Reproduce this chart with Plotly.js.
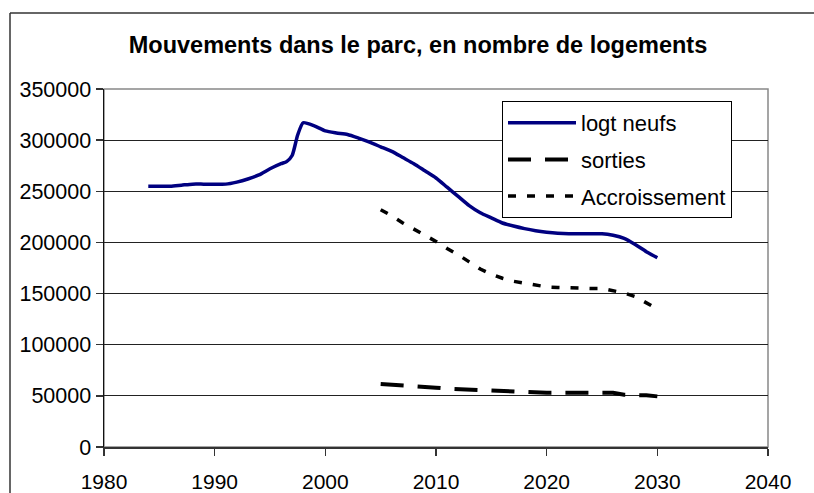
<!DOCTYPE html>
<html>
<head>
<meta charset="utf-8">
<script src="https://cdn.plot.ly/plotly-3.0.1.min.js"></script>
<style>html,body{margin:0;padding:0;background:#fff;overflow:hidden;}#chart{width:814px;height:493px;}</style>
</head>
<body>
<div id="chart"></div>
<script>
// Data
const yearsNeufs = [1984,1985,1986,1987,1988,1989,1990,1991,1992,1993,1994,1995,1996,1996.5,1997,1997.5,1998,1999,2000,2001,2002,2003,2004,2005,2006,2007,2008,2009,2010,2011,2012,2013,2014,2015,2016,2017,2018,2019,2020,2021,2022,2023,2024,2025,2026,2027,2028,2029,2030];
const logtNeufs = [255000,255000,255000,256000,257000,257000,257000,257000,259000,262000,266000,272000,277000,279000,285000,305000,317000,314000,309000,307000,305500,302000,298000,293500,289000,283000,277000,270000,263000,254000,245000,236000,229000,224000,219000,216000,213500,211500,210000,209000,208500,208500,208500,208500,207000,204000,198000,191000,185000];

const yearsProj = [2005,2006,2007,2008,2009,2010,2011,2012,2013,2014,2015,2016,2017,2018,2019,2020,2021,2022,2023,2024,2025,2026,2027,2028,2029,2030];
const sorties = [61500,61000,60000,59000,58500,58000,57000,56500,56000,55500,55000,54500,54000,53500,53000,53000,53000,53000,53000,53000,53000,53000,51000,51000,50500,49500];
const accroissement = [232000,226000,219000,213000,207000,201000,194000,188000,181000,174000,169000,165000,162000,160000,158000,156500,156000,155500,155000,155000,155000,153000,150500,147000,141000,135000];

const seriesNames = ["logt neufs","sorties","Accroissement"];
const titleText = "Mouvements dans le parc, en nombre de logements";
const xTicks = [1980,1990,2000,2010,2020,2030,2040];
const yTicks = [0,50000,100000,150000,200000,250000,300000,350000];

const FONT = "Liberation Sans, Arial, sans-serif";

const traces = [
  {x: yearsNeufs, y: logtNeufs, name: seriesNames[0], legendgroup: "a", mode: "lines",
   line: {color: "#000080", width: 3.5, shape: "spline", smoothing: 0.6}},
  {x: yearsProj, y: sorties, name: seriesNames[1], legendgroup: "b", mode: "lines",
   line: {color: "#000000", width: 4, dash: "23px,14px"}},
  {x: yearsProj, y: accroissement, name: seriesNames[2], legendgroup: "c", mode: "lines",
   line: {color: "#000000", width: 3.5, dash: "8px,11px"}}
];

const pxX = p => (p - 104) / 664;
const pxY = p => (447 - p) / 358;

const layout = {
  width: 814, height: 493,
  margin: {l: 104, r: 46, t: 89, b: 46, pad: 0},
  paper_bgcolor: "#ffffff",
  plot_bgcolor: "rgba(0,0,0,0)",
  font: {family: FONT, color: "#000", size: 21},
  title: {text: "<b>" + titleText + "</b>", font: {family: FONT, size: 23.5, color: "#000"},
          xref: "container", x: 0.5135, xanchor: "center",
          yref: "container", y: 1 - 45/493, yanchor: "middle"},
  showlegend: true,
  legend: {x: pxX(502), xanchor: "left", y: pxY(101), yanchor: "top",
           bgcolor: "#ffffff", bordercolor: "#000", borderwidth: 1,
           font: {family: FONT, size: 22, color: "#000"},
           itemwidth: 68, tracegroupgap: 5, traceorder: "grouped"},
  xaxis: {range: [1980, 2040], tickmode: "array", tickvals: xTicks, ticktext: xTicks.map(String),
          showgrid: false, zeroline: false, showline: true, linecolor: "#333", linewidth: 2,
          ticks: "outside", ticklen: 7, tickwidth: 1.5, tickcolor: "#333",
          ticklabelposition: "outside", ticklabelstandoff: 8,
          tickfont: {family: FONT, size: 21, color: "#000"}, fixedrange: true},
  yaxis: {range: [0, 350000], tickmode: "array", tickvals: yTicks, ticktext: yTicks.map(String),
          showgrid: true, gridcolor: "#222", gridwidth: 1, zeroline: false,
          showline: true, linecolor: "#111", linewidth: 1.5,
          ticks: "outside", ticklen: 7, tickwidth: 1.5, tickcolor: "#333",
          tickfont: {family: FONT, size: 21.5, color: "#000"}, fixedrange: true},
  shapes: [
    {type: "rect", xref: "paper", yref: "paper", x0: 0, x1: 1, y0: 0, y1: 1,
     line: {color: "#888", width: 1.5}, layer: "below"},
    {type: "line", xref: "paper", yref: "paper", x0: pxX(10), x1: pxX(10), y0: pxY(493), y1: pxY(13),
     line: {color: "#333", width: 1.5}, layer: "below"},
    {type: "line", xref: "paper", yref: "paper", x0: pxX(10), x1: pxX(814), y0: pxY(13), y1: pxY(13),
     line: {color: "#333", width: 1.5}, layer: "below"}
  ]
};

Plotly.newPlot("chart", traces, layout, {staticPlot: true, displayModeBar: false});
</script>
</body>
</html>
